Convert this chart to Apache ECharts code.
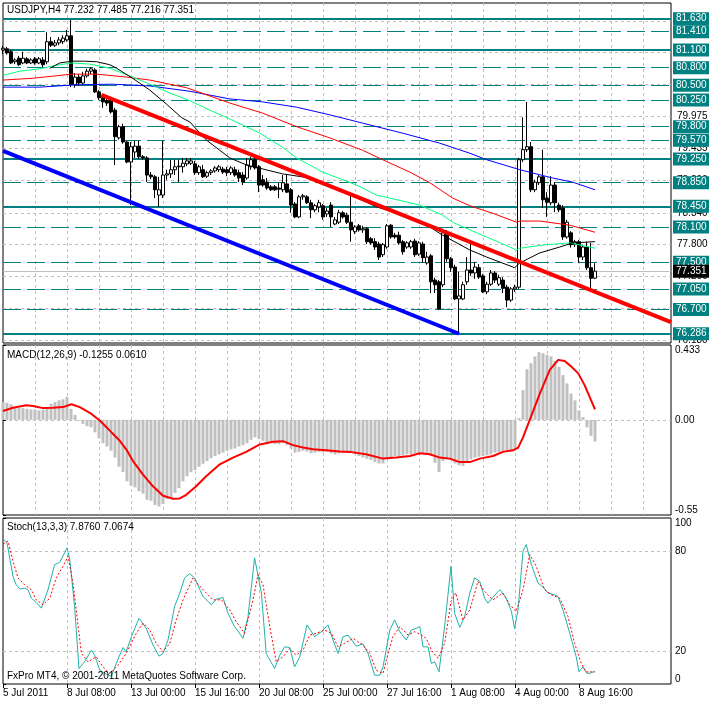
<!DOCTYPE html>
<html><head><meta charset="utf-8">
<script src="https://cdn.jsdelivr.net/npm/echarts@6/dist/echarts.min.js"></script>
<style>html,body{margin:0;padding:0;background:#fff}#c{width:709px;height:702px}</style>
</head><body><div id="c"></div>
<script>
// ---- data ----
// candles: [open, high, low, close], one per H4 bar (bar index = position)
const ohlc = [
[81.10,81.17,81.03,81.13],[81.12,81.15,81.02,81.05],[81.07,81.10,80.86,80.88],[80.90,80.96,80.86,80.93],
[80.96,81.00,80.83,80.85],[80.88,81.07,80.86,80.96],[80.95,80.98,80.86,80.88],[80.88,80.96,80.86,80.93],
[80.95,80.98,80.85,80.88],[80.88,80.98,80.86,80.95],[80.93,80.98,80.81,80.85],[80.90,81.40,80.86,81.24],
[81.24,81.32,81.15,81.18],[81.18,81.27,81.15,81.22],[81.22,81.32,81.18,81.27],[81.24,81.35,81.20,81.30],
[81.27,81.44,81.24,81.34],[81.34,81.61,80.47,80.51],[80.51,80.71,80.46,80.64],[80.64,80.69,80.49,80.54],
[80.54,80.73,80.51,80.66],[80.66,80.78,80.63,80.74],[80.74,80.81,80.69,80.78],[80.76,80.79,80.37,80.39],
[80.39,80.42,80.25,80.29],[80.29,80.34,80.12,80.22],[80.24,80.27,80.15,80.20],[80.25,80.29,80.02,80.05],
[80.08,80.12,79.15,79.63],[79.61,79.83,79.58,79.80],[79.80,79.85,79.51,79.54],[79.54,79.56,79.18,79.20],
[79.20,79.54,78.47,79.46],[79.37,79.56,79.27,79.47],[79.47,79.56,79.25,79.29],[79.29,79.32,79.24,79.27],
[79.27,79.30,78.86,78.98],[78.98,79.03,78.91,78.95],[78.95,78.98,78.59,78.73],[78.64,78.95,78.44,78.73],
[78.64,79.56,78.59,78.98],[78.98,79.07,78.90,79.00],[79.00,79.24,78.93,79.07],[79.07,79.24,78.98,79.12],
[79.12,79.24,78.86,79.13],[79.12,79.27,79.02,79.18],[79.17,79.27,79.13,79.22],[79.18,79.27,79.15,79.22],
[79.17,79.22,78.98,79.02],[79.02,79.15,78.98,79.12],[79.07,79.15,78.93,78.95],[78.96,79.05,78.93,79.02],
[79.02,79.08,78.98,79.05],[79.05,79.13,79.02,79.10],[79.07,79.15,79.03,79.12],[79.08,79.12,79.00,79.03],
[79.07,79.12,78.96,79.02],[79.02,79.13,78.98,79.10],[79.07,79.12,78.95,78.98],[79.02,79.07,78.86,78.93],
[78.98,79.03,78.81,78.86],[78.93,79.27,78.90,79.15],[79.12,79.29,79.07,79.24],[79.24,79.27,79.07,79.10],
[79.12,79.15,78.69,78.81],[78.90,78.98,78.78,78.81],[78.86,78.93,78.73,78.76],[78.78,78.81,78.71,78.73],
[78.78,78.81,78.71,78.73],[78.76,78.85,78.59,78.74],[78.73,78.98,78.69,78.85],[78.83,78.98,78.68,78.69],
[78.73,78.76,78.34,78.47],[78.49,78.52,78.25,78.27],[78.27,78.64,78.25,78.61],[78.61,78.66,78.56,78.63],
[78.61,78.64,78.49,78.51],[78.51,78.56,78.25,78.39],[78.39,78.49,78.35,78.46],[78.44,78.56,78.35,78.51],
[78.46,78.49,78.22,78.27],[78.32,78.42,78.27,78.37],[78.47,78.52,78.10,78.27],[78.15,78.27,78.13,78.22],
[78.18,78.39,78.15,78.34],[78.34,78.37,78.24,78.27],[78.30,78.34,78.15,78.18],[78.18,78.64,77.85,78.05],
[78.02,78.13,77.98,78.10],[78.12,78.15,78.02,78.05],[78.05,78.12,78.00,78.07],[78.07,78.10,77.81,77.85],
[77.90,77.93,77.80,77.83],[77.85,77.91,77.71,77.76],[77.81,77.85,77.54,77.59],[77.63,77.83,77.59,77.80],
[77.76,78.15,77.73,78.12],[78.13,78.15,77.90,77.93],[77.96,78.00,77.90,77.93],[77.96,78.02,77.80,77.83],
[77.85,77.88,77.63,77.68],[77.76,77.86,77.73,77.83],[77.76,77.88,77.73,77.85],[77.86,77.90,77.59,77.63],
[77.64,77.86,77.61,77.83],[77.81,77.85,77.49,77.58],[77.49,77.68,77.46,77.59],[77.61,77.64,76.98,77.17],
[77.20,77.24,76.98,77.12],[77.17,77.20,76.69,76.71],[77.12,78.07,77.08,78.00],[78.00,78.05,77.51,77.56],
[77.56,77.59,77.34,77.41],[77.42,77.46,76.86,76.88],[76.88,77.34,76.286,76.93],[76.88,77.17,76.86,77.12],
[77.17,77.59,77.12,77.37],[77.37,77.83,77.27,77.32],[77.32,77.51,77.22,77.42],[77.41,77.47,77.22,77.25],
[77.27,77.30,76.98,77.00],[77.00,77.17,76.96,77.13],[77.13,77.37,77.10,77.32],[77.32,77.35,77.15,77.20],
[77.13,77.29,77.10,77.24],[77.20,77.25,76.98,77.06],[77.08,77.12,76.74,76.86],[76.86,77.08,76.83,77.05],
[77.05,77.12,77.00,77.08],[77.08,79.27,77.05,79.24],[79.24,79.96,79.20,79.41],[79.41,80.22,79.37,79.46],
[79.46,79.54,78.69,78.73],[78.73,78.90,78.69,78.86],[78.85,78.98,78.81,78.95],[78.95,79.41,78.42,78.56],
[78.59,78.69,78.27,78.52],[78.51,78.96,78.47,78.81],[78.81,78.86,78.35,78.51],[78.47,78.51,78.35,78.39],
[78.42,78.47,77.88,77.93],[77.93,78.22,77.90,78.18],[78.00,78.03,77.75,77.80],[77.80,77.88,77.76,77.85],
[77.85,77.88,77.49,77.59],[77.59,77.80,77.54,77.76],[77.76,77.85,77.37,77.41],[77.41,77.83,77.03,77.23],
[77.232,77.485,77.216,77.351]
];
// moving averages: [bar, price]
const maBlack = [[11.7,80.79],[14.2,80.88],[17.2,80.91],[20.4,80.91],[23.4,80.90],[26.7,80.85],[28.4,80.79],[32.4,80.62],[36.7,80.42],[40.9,80.18],[44.7,79.95],[46.7,79.88],[50.9,79.57],[56.7,79.27],[60.9,79.15],[69.9,79.00],[76.7,78.93],[84.2,78.73],[93.4,78.44],[99.9,78.30],[106.7,78.10],[109.9,77.96],[116.7,77.71],[120.9,77.59],[127.9,77.41],[129.2,77.49],[134.2,77.66],[139.2,77.76],[142.4,77.83],[148,77.85]];
const maGreen = [[0,80.67],[4.2,80.74],[9.2,80.78],[12.4,80.83],[17.2,80.88],[21.7,80.86],[26.7,80.79],[31.7,80.66],[36.7,80.52],[41.7,80.37],[46.7,80.24],[51.7,80.08],[56.7,79.93],[64.2,79.69],[69.9,79.45],[73.4,79.27],[79.9,79.03],[88.4,78.81],[93.4,78.64],[101.7,78.51],[104.2,78.47],[109.9,78.30],[112.4,78.18],[116.7,78.05],[120.9,77.93],[128.4,77.71],[129.2,77.74],[135.9,77.80],[141.7,77.83],[148,77.74]];
const maRed = [[0,80.59],[7.4,80.62],[17.2,80.69],[23.4,80.69],[30.9,80.64],[36.7,80.59],[45.9,80.46],[56.7,80.20],[64.9,80.03],[73.4,79.80],[81.7,79.61],[89.9,79.40],[94.9,79.24],[101.7,79.03],[106.7,78.85],[112.4,78.59],[116.7,78.46],[122.9,78.32],[128.4,78.18],[129.2,78.20],[134.2,78.20],[141.7,78.13],[148,78.01]];
const maBlue = [[0,80.47],[9.2,80.47],[18.4,80.51],[27.4,80.52],[36.7,80.49],[46.7,80.40],[56.7,80.27],[64.9,80.22],[73.4,80.13],[81.7,80.00],[89.9,79.86],[99.9,79.69],[109.2,79.52],[116.7,79.35],[120.9,79.24],[129.2,79.07],[137.4,78.93],[142.4,78.86],[148,78.73]];
// trend lines [bar, price]
const trendRed = [[24.6,80.337],[167,76.488]];
const trendBlue = [[0,79.39],[114,76.29]];
// horizontal levels
const levelsSolid = [81.630,81.100,79.250,78.450,76.286];
const levelsDashed = [81.410,80.800,80.500,80.250,79.800,79.570,78.850,78.100,77.500,77.050,76.700];
const gridLevels = [81.595,81.055,80.515,79.975,79.435,78.890,78.340,77.800,77.266,76.723,76.180];
const lastPrice = 77.351;
// MACD histogram, one per bar
const macdHist = [0.103,0.099,0.090,0.074,0.068,0.068,0.064,0.060,0.060,0.055,0.059,0.074,0.094,0.103,0.113,0.119,0.133,0.064,0.029,-0.005,
-0.023,-0.037,-0.043,-0.072,-0.107,-0.135,-0.154,-0.179,-0.218,-0.271,-0.302,-0.355,-0.380,-0.390,-0.413,-0.427,-0.462,-0.468,-0.492,-0.501,
-0.486,-0.458,-0.447,-0.423,-0.394,-0.355,-0.326,-0.302,-0.291,-0.271,-0.254,-0.238,-0.222,-0.209,-0.199,-0.189,-0.179,-0.170,-0.166,-0.154,
-0.146,-0.135,-0.115,-0.101,-0.111,-0.121,-0.131,-0.135,-0.140,-0.140,-0.135,-0.146,-0.166,-0.189,-0.185,-0.179,-0.183,-0.193,-0.189,-0.185,
-0.189,-0.185,-0.193,-0.199,-0.195,-0.193,-0.189,-0.189,-0.199,-0.209,-0.218,-0.224,-0.232,-0.244,-0.252,-0.252,-0.224,-0.218,-0.209,-0.209,
-0.205,-0.199,-0.199,-0.193,-0.189,-0.193,-0.199,-0.209,-0.248,-0.302,-0.238,-0.228,-0.232,-0.252,-0.263,-0.267,-0.238,-0.228,-0.218,-0.213,
-0.209,-0.205,-0.199,-0.189,-0.189,-0.185,-0.179,-0.174,-0.170,0.010,0.172,0.293,0.328,0.367,0.392,0.386,0.376,0.367,0.341,0.308,
0.259,0.211,0.152,0.113,0.055,0.016,-0.043,-0.092,-0.1255];
const macdSignal = [[0,0.051],[2.5,0.070],[5.8,0.084],[7.5,0.080],[10,0.068],[12.5,0.070],[15,0.074],[17.1,0.090],[19.2,0.074],[21.7,0.041],[24.2,-0.004],[26.7,-0.062],[29.2,-0.121],[30.8,-0.170],[32.5,-0.238],[35,-0.316],[37.5,-0.384],[40,-0.439],[42.5,-0.456],[44.2,-0.454],[45.8,-0.433],[48.3,-0.384],[50.8,-0.326],[54.2,-0.257],[57.5,-0.218],[60.8,-0.185],[64.2,-0.142],[67.5,-0.127],[70,-0.123],[72.5,-0.146],[75,-0.160],[77.5,-0.170],[80.8,-0.175],[84.2,-0.183],[86.7,-0.185],[90.8,-0.199],[95,-0.224],[98.3,-0.218],[101.7,-0.209],[104.2,-0.193],[106.7,-0.199],[109.2,-0.218],[111.7,-0.224],[114.2,-0.244],[116.7,-0.244],[119.2,-0.224],[122.5,-0.209],[125,-0.185],[127.5,-0.176],[128.8,-0.160],[130,-0.101],[132.1,0.025],[134.2,0.152],[136.7,0.289],[138.8,0.347],[140.4,0.341],[142.1,0.308],[143.8,0.269],[145.4,0.201],[148,0.061]];
// Stochastic main / signal: [bar, value]
const stochMain = [[0,87.5],[1,85.1],[2.5,64.8],[3.3,59.8],[4.2,57.2],[5.4,57.8],[6.25,56.8],[7.1,51.7],[8.3,49.1],[9.6,45.7],[10,45.1],[11.25,56.8],[12.9,71.9],[14.2,73.4],[15.4,79.0],[16,82.0],[16.7,74.9],[17.9,46.7],[19,9.3],[20.4,13.4],[22.1,20.4],[22.9,17.4],[24.2,8.3],[25.4,6.3],[27.1,4.7],[28.3,12.3],[30,22.0],[30.8,19.4],[32.1,28.5],[34,39.6],[35.8,33.6],[37.5,23.5],[39,16.8],[40,18.4],[41.25,26.5],[42.9,46.7],[44.2,54.8],[45.4,63.9],[46.7,66.5],[47.9,63.9],[50,52.7],[52.1,47.7],[53.3,51.1],[55,52.1],[56.25,42.6],[57.9,34.6],[60,27.5],[61.25,40.6],[62.9,76.0],[64.6,54.8],[65.8,18.4],[67.9,9.3],[69.2,17.4],[70.4,22.4],[71.7,22.0],[72.9,10.3],[74.2,16.4],[76,35.6],[77.9,28.5],[79.6,31.5],[81.25,35.6],[82.5,26.5],[83.75,18.4],[85,28.5],[86.25,29.5],[88.3,22.8],[90,24.1],[91.25,18.4],[92.9,5.3],[94.2,5.3],[95,10.3],[96.7,32.5],[97.9,38.6],[99.2,31.5],[100.8,26.5],[102.1,32.5],[103.3,33.5],[104.2,34.6],[105,22.4],[106.25,22.4],[107.1,12.3],[107.9,13.4],[109,7.3],[110.4,34.6],[112,71.0],[112.9,42.6],[114.2,34.1],[115.4,40.6],[116.7,54.8],[117.9,63.9],[119.2,61.8],[120.4,51.7],[121.25,48.7],[122.5,52.3],[124.2,56.8],[125.8,51.7],[127.1,43.7],[127.9,33.5],[128.75,44.6],[130,80.0],[130.8,84.0],[132.1,71.9],[133.75,60.8],[135,58.4],[136.25,54.8],[137.9,53.7],[138.75,52.7],[140,44.6],[141.7,30.5],[143.3,16.4],[144,7.3],[145,10.3],[146,6.3],[147.1,6.7],[148,7.876]];
const stochSignal = [[0,84.3],[1.25,86.1],[2.5,74.0],[3.75,63.9],[5.4,59.8],[7.1,56.8],[8.3,50.7],[10,47.7],[11.7,51.7],[13.3,63.9],[15,70.9],[16.25,77.0],[17.5,60.8],[19.6,18.4],[21.25,13.4],[23.3,16.4],[25,10.3],[26.7,6.3],[28.75,11.3],[30.8,18.4],[33.3,30.5],[35,36.6],[36.7,32.5],[38.3,24.5],[40,19.4],[41.7,24.5],[43.3,38.6],[45,50.7],[47.5,63.9],[49.6,57.8],[52.5,50.7],[54.6,50.7],[56.7,44.6],[58.3,37.6],[60.4,30.5],[62.5,50.7],[63.75,65.9],[65,59.8],[66.7,34.6],[68.3,13.4],[70,16.4],[71.7,21.4],[73.3,17.4],[75,20.4],[76.7,29.5],[78.3,30.5],[80.4,32.5],[82.1,30.5],[83.75,22.4],[85.4,24.5],[87.5,27.5],[90,23.5],[91.7,18.4],[93.3,8.3],[95,6.3],[96.25,18.4],[97.5,28.5],[99.2,34.6],[101.25,29.5],[102.9,31.5],[104.6,29.5],[105.8,27.5],[107.1,20.4],[108.75,15.4],[110.4,24.5],[112,49.7],[113.2,54.8],[115,38.6],[116.7,44.6],[118.75,61.8],[120.4,55.8],[122.5,50.7],[125,54.8],[126.7,47.7],[128.3,43.7],[130,56.8],[131.7,78.0],[133.3,70.9],[135.4,56.8],[137.1,53.7],[139.2,51.7],[141.25,40.6],[142.9,24.5],[144.6,12.3],[145.8,7.3],[147.5,7.3],[148,7.067]];
const stochLevels = [20, 80];
const stochLabels = [0, 20, 80, 100];
// time axis labels
const tickBars = [0,16,32,48,64,80,96,112,128,144];
const tickLabels = ['5 Jul 2011','8 Jul 08:00','13 Jul 00:00','15 Jul 16:00','20 Jul 08:00','25 Jul 00:00','27 Jul 16:00','1 Aug 08:00','4 Aug 00:00','8 Aug 16:00'];

// ---- chart ----
const FONT = 'Liberation Sans';
const TEAL = '#008080';
const GRAY = '#c0c0c0';
const X_MAX = 167;
const chart = echarts.init(document.getElementById('c'), null, {renderer: 'canvas'});

function xAxisFor(i, withLabels) {
  return {
    type: 'value', gridIndex: i, min: 0, max: X_MAX, interval: 8,
    axisLine: {show: false},
    axisTick: withLabels ? {show: true, customValues: tickBars, length: 4, lineStyle: {color: '#000'}} : {show: false},
    axisLabel: withLabels ? {show: true, customValues: tickBars, formatter: v => { const k = tickBars.indexOf(v); return k >= 0 ? tickLabels[k] : ''; }, align: 'left', margin: 4, fontSize: 10, color: '#000', fontFamily: FONT} : {show: false},
    splitLine: {show: true, showMinLine: false, showMaxLine: false, lineStyle: {color: GRAY, type: [3, 3], width: 1}}
  };
}
const fmt3 = v => Number(v).toFixed(3);
const mlData = [];
gridLevels.forEach(v => mlData.push({yAxis: v, name: fmt3(v), lineStyle: {color: GRAY, type: [3, 3], width: 1},
  label: {color: '#000', backgroundColor: 'transparent', padding: 0, distance: 6}}));
levelsDashed.forEach(v => mlData.push({yAxis: v, name: fmt3(v), lineStyle: {color: TEAL, type: [18, 6], width: 1}}));
levelsSolid.forEach(v => mlData.push({yAxis: v, name: fmt3(v), lineStyle: {color: TEAL, type: 'solid', width: 2}}));
mlData.push({yAxis: lastPrice, name: fmt3(lastPrice), lineStyle: {color: GRAY, type: 'solid', width: 1}, label: {backgroundColor: '#000', color: '#fff'}});

const titleStyle = {fontSize: 10, fontWeight: 'normal', color: '#000', fontFamily: FONT};
const option = {
  animation: false,
  backgroundColor: '#fff',
  textStyle: {fontFamily: FONT},
  title: [
    {text: 'USDJPY,H4 77.232 77.485 77.216 77.351', left: 7, top: 5, padding: 0, textStyle: titleStyle},
    {text: 'MACD(12,26,9) -0.1255 0.0610', left: 7, top: 350, padding: 0, textStyle: titleStyle},
    {text: 'Stoch(13,3,3) 7.8760 7.0674', left: 7, top: 522, padding: 0, textStyle: titleStyle},
    {text: 'FxPro MT4, © 2001-2011 MetaQuotes Software Corp.', left: 7, top: 671, padding: 0, textStyle: titleStyle}
  ],
  grid: [
    {left: 3, top: 3, width: 668, height: 340, show: true, borderColor: '#000', borderWidth: 1, backgroundColor: 'transparent', containLabel: false, outerBoundsMode: 'none'},
    {left: 3, top: 345, width: 668, height: 170, show: true, borderColor: '#000', borderWidth: 1, backgroundColor: 'transparent', containLabel: false, outerBoundsMode: 'none'},
    {left: 3, top: 518, width: 668, height: 166, show: true, borderColor: '#000', borderWidth: 1, backgroundColor: 'transparent', containLabel: false, outerBoundsMode: 'none'}
  ],
  xAxis: [xAxisFor(0, false), xAxisFor(1, false), xAxisFor(2, true)],
  yAxis: [
    {type: 'value', gridIndex: 0, position: 'right', min: 76.133, max: 81.896, scale: true,
      axisLine: {show: false}, axisTick: {show: false}, axisLabel: {show: false}, splitLine: {show: false}},
    {type: 'value', gridIndex: 1, position: 'right', min: -0.55, max: 0.433, interval: 0.55,
      axisLine: {show: false}, axisTick: {show: true, length: 3, lineStyle: {color: '#000'}},
      axisLabel: {show: true, margin: 4, fontSize: 10, color: '#000', fontFamily: FONT,
        formatter: v => (Math.abs(v) < 1e-9 ? '0.00' : (v > 0 ? '0.433' : '-0.55')),
        verticalAlignMaxLabel: 'top', verticalAlignMinLabel: 'bottom'},
      splitLine: {show: true, showMinLine: false, showMaxLine: false, lineStyle: {color: GRAY, type: [3, 3], width: 1}}},
    {type: 'value', gridIndex: 2, position: 'right', min: 0, max: 100, interval: 20,
      axisLine: {show: false}, axisTick: {show: true, customValues: stochLabels, length: 3, lineStyle: {color: '#000'}},
      axisLabel: {show: true, customValues: stochLabels, margin: 4, fontSize: 10, color: '#000', fontFamily: FONT,
        formatter: v => String(v), verticalAlignMaxLabel: 'top', verticalAlignMinLabel: 'bottom'},
      splitLine: {show: false}}
  ],
  series: [
    {type: 'candlestick', xAxisIndex: 0, yAxisIndex: 0, z: 3, barWidth: 3,
      data: ohlc.map((d, i) => [i, d[0], d[3], d[2], d[1]]),
      itemStyle: {color: '#fff', color0: '#000', borderColor: '#000', borderColor0: '#000', borderWidth: 1},
      markLine: {silent: true, symbol: 'none', animation: false, z: 1, data: mlData,
        label: {show: true, position: 'end', distance: 2, formatter: p => p.name,
          backgroundColor: TEAL, color: '#fff', fontSize: 10, fontFamily: FONT, padding: [2, 2, 1, 3], width: 31, lineHeight: 10}}},
    {type: 'line', xAxisIndex: 0, yAxisIndex: 0, z: 4, data: maBlue, showSymbol: false, lineStyle: {color: '#0000ff', width: 1}},
    {type: 'line', xAxisIndex: 0, yAxisIndex: 0, z: 4, data: maRed, showSymbol: false, lineStyle: {color: '#ff0000', width: 1}},
    {type: 'line', xAxisIndex: 0, yAxisIndex: 0, z: 4, data: maGreen, showSymbol: false, lineStyle: {color: '#00ff80', width: 1}},
    {type: 'line', xAxisIndex: 0, yAxisIndex: 0, z: 4, data: maBlack, showSymbol: false, lineStyle: {color: '#000', width: 1}},
    {type: 'line', xAxisIndex: 0, yAxisIndex: 0, z: 5, data: trendBlue, showSymbol: false, lineStyle: {color: '#0000ff', width: 4}},
    {type: 'line', xAxisIndex: 0, yAxisIndex: 0, z: 5, data: trendRed, showSymbol: false, lineStyle: {color: '#ff0000', width: 4}},
    {type: 'bar', xAxisIndex: 1, yAxisIndex: 1, z: 3, barWidth: 3, data: macdHist.map((v, i) => [i, v]),
      itemStyle: {color: GRAY}},
    {type: 'line', xAxisIndex: 1, yAxisIndex: 1, z: 4, data: macdSignal, showSymbol: false, lineStyle: {color: '#ff0000', width: 2}},
    {type: 'line', xAxisIndex: 2, yAxisIndex: 2, z: 4, data: stochMain, showSymbol: false, lineStyle: {color: '#20b2aa', width: 1},
      markLine: {silent: true, symbol: 'none', animation: false, z: 1, label: {show: false},
        data: stochLevels.map(v => ({yAxis: v})), lineStyle: {color: GRAY, type: [3, 3], width: 1}}},
    {type: 'line', xAxisIndex: 2, yAxisIndex: 2, z: 4, data: stochSignal, showSymbol: false, lineStyle: {color: '#ff0000', width: 1, type: [2, 2]}}
  ]
};
chart.setOption(option);
</script>
</body></html>
